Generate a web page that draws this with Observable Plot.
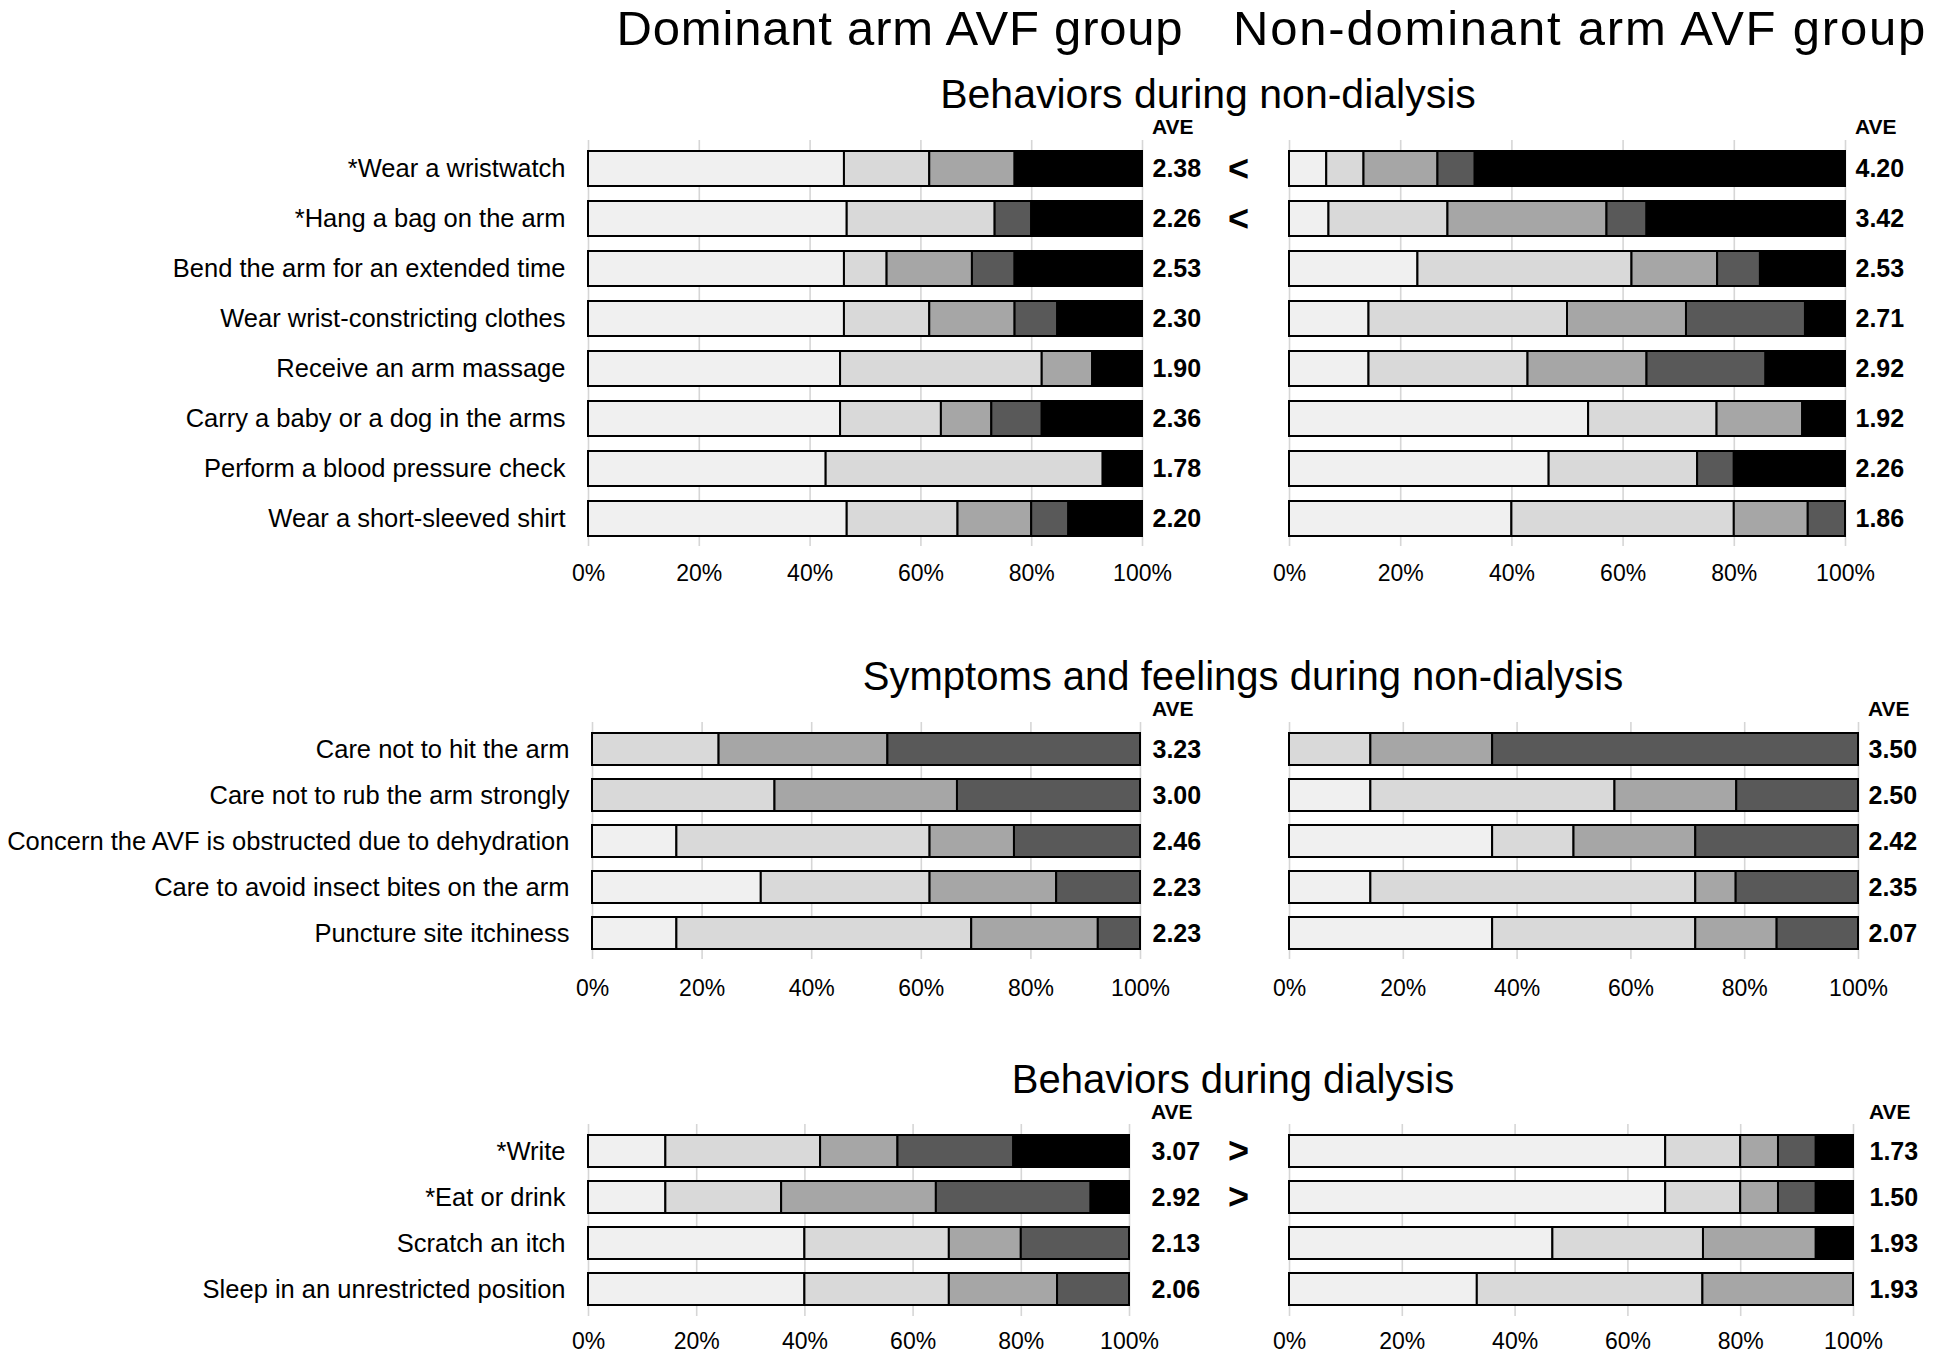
<!DOCTYPE html>
<html><head><meta charset="utf-8">
<script src="https://cdn.jsdelivr.net/npm/d3@7"></script>
<script src="https://cdn.jsdelivr.net/npm/@observablehq/plot@0.6"></script>
<style>
body{margin:0;background:#fff;}
#chart{position:relative;width:1943px;height:1354px;overflow:hidden;font-family:"Liberation Sans",Arial,sans-serif;color:#000;background:#fff;}
.t{position:absolute;white-space:nowrap;line-height:1;}
.panel{position:absolute;}
</style></head><body><div id="chart"></div><script>
// ---------- data ----------
const levelColors = ["#f0f0f0", "#d9d9d9", "#a6a6a6", "#595959", "#000000"];
const tickValues = [0, 20, 40, 60, 80, 100];

const behaviorItems = ["*Wear a wristwatch", "*Hang a bag on the arm", "Bend the arm for an extended time", "Wear wrist-constricting clothes", "Receive an arm massage", "Carry a baby or a dog in the arms", "Perform a blood pressure check", "Wear a short-sleeved shirt"];
const behaviorDominant = [
  [46.2, 15.4, 15.4, 0, 23.0],
  [46.7, 26.7, 0, 6.6, 20.0],
  [46.2, 7.7, 15.4, 7.7, 23.0],
  [46.2, 15.4, 15.4, 7.7, 15.3],
  [45.5, 36.4, 9.1, 0, 9.0],
  [45.5, 18.2, 9.1, 9.1, 18.1],
  [42.9, 50.0, 0, 0, 7.1],
  [46.7, 20.0, 13.3, 6.7, 13.3]
];
const behaviorNonDominant = [
  [6.7, 6.7, 13.3, 6.7, 66.6],
  [7.1, 21.4, 28.6, 7.2, 35.7],
  [23.1, 38.5, 15.4, 7.7, 15.3],
  [14.3, 35.7, 21.4, 21.4, 7.2],
  [14.3, 28.6, 21.4, 21.4, 14.3],
  [53.8, 23.1, 15.4, 0, 7.7],
  [46.7, 26.7, 0, 6.6, 20.0],
  [40.0, 40.0, 13.3, 6.7, 0]
];
const behaviorAveDominant = [2.38, 2.26, 2.53, 2.30, 1.90, 2.36, 1.78, 2.20];
const behaviorAveNonDominant = [4.20, 3.42, 2.53, 2.71, 2.92, 1.92, 2.26, 1.86];
const behaviorSigns = ["<", "<", "", "", "", "", "", ""];

const symptomItems = ["Care not to hit the arm", "Care not to rub the arm strongly", "Concern the AVF is obstructed due to dehydration", "Care to avoid insect bites on the arm", "Puncture site itchiness"];
const symptomDominant = [
  [0, 23.1, 30.8, 46.1],
  [0, 33.3, 33.3, 33.4],
  [15.4, 46.2, 15.4, 23.0],
  [30.8, 30.8, 23.1, 15.3],
  [15.4, 53.8, 23.1, 7.7]
];
const symptomNonDominant = [
  [0, 14.3, 21.4, 64.3],
  [14.3, 42.9, 21.4, 21.4],
  [35.7, 14.3, 21.4, 28.6],
  [14.3, 57.1, 7.1, 21.5],
  [35.7, 35.7, 14.3, 14.3]
];
const symptomAveDominant = [3.23, 3.00, 2.46, 2.23, 2.23];
const symptomAveNonDominant = [3.50, 2.50, 2.42, 2.35, 2.07];

const dialysisItems = ["*Write", "*Eat or drink", "Scratch an itch", "Sleep in an unrestricted position"];
const dialysisDominant = [
  [14.3, 28.6, 14.3, 21.4, 21.4],
  [14.3, 21.4, 28.6, 28.6, 7.1],
  [40.0, 26.7, 13.3, 20.0, 0],
  [40.0, 26.7, 20.0, 13.3, 0]
];
const dialysisNonDominant = [
  [66.7, 13.3, 6.7, 6.7, 6.6],
  [66.7, 13.3, 6.7, 6.7, 6.6],
  [46.7, 26.7, 20.0, 0, 6.6],
  [33.3, 40.0, 26.7, 0, 0]
];
const dialysisAveDominant = [3.07, 2.92, 2.13, 2.06];
const dialysisAveNonDominant = [1.73, 1.50, 1.93, 1.93];
const dialysisSigns = [">", ">", "", ""];

// ---------- drawing ----------
const chart = document.getElementById("chart");
const fmt = d3.format(".2f");

// place a text so that its baseline sits at y (line-height 1 => baseline ≈ top + 0.8465em)
function addText(txt, css, baseline) {
  const d = document.createElement("div");
  d.className = "t";
  d.textContent = txt;
  Object.assign(d.style, css);
  const fs = parseFloat(css.fontSize);
  d.style.top = (baseline - 0.8465 * fs) + "px";
  chart.appendChild(d);
}

function panel(o) {
  const segs = [];
  o.items.forEach((item, i) => o.values[i].forEach((v, k) => {
    if (v > 0) segs.push({item, level: k + 1, value: v});
  }));
  const rows = o.items.map((item, i) => ({item, ave: o.ave[i], sign: o.signs ? o.signs[i] : ""}));
  const mb = o.mb;
  const width = o.svgRight - o.svgLeft;
  const height = o.r1 - o.r0 + mb;
  const marks = [
    Plot.gridX(tickValues, {stroke: "#d6d6d6", strokeOpacity: 1, strokeWidth: 1.6}),
    Plot.axisX(tickValues, {tickSize: 0, tickPadding: o.tickPad, tickFormat: d => d + "%", fontSize: 23, label: null}),
    Plot.barX(segs, {x: "value", y: "item", fill: "level", stroke: "#000", strokeWidth: 2}),
    Plot.text(rows, {x: d => 100, y: "item", text: d => fmt(d.ave), dx: o.aveX - o.x100, textAnchor: "start", fontWeight: "bold", fontSize: 25})
  ];
  if (o.labels) marks.push(Plot.axisY({tickSize: 0, tickPadding: 23, fontSize: 25.5, label: null}));
  if (o.signs) marks.push(Plot.text(rows, {x: d => 100, y: "item", text: "sign", dx: o.signX - o.x100, textAnchor: "middle", fontSize: 36, fontWeight: "bold"}));
  const p = Plot.plot({
    width, height,
    marginLeft: o.x0 - o.svgLeft,
    marginRight: o.svgRight - o.x100,
    marginTop: 0,
    marginBottom: mb,
    style: {fontFamily: '"Liberation Sans", Arial, sans-serif', fontSize: "23px", color: "#000", background: "transparent", overflow: "visible"},
    x: {domain: [0, 100], axis: null},
    y: {domain: o.items, paddingInner: 0.31, paddingOuter: o.po, axis: null},
    color: {type: "ordinal", domain: [1, 2, 3, 4, 5], range: levelColors},
    marks
  });
  const wrap = document.createElement("div");
  wrap.className = "panel";
  wrap.style.left = o.svgLeft + "px";
  wrap.style.top = o.r0 + "px";
  wrap.appendChild(p);
  chart.appendChild(wrap);
}

// Titles
addText("Dominant arm AVF group", {left: "900px", fontSize: "49px", letterSpacing: "0.8px", transform: "translateX(-50%)"}, 45);
addText("Non-dominant arm AVF group", {left: "1233px", fontSize: "49px", letterSpacing: "1.8px"}, 45);
addText("Behaviors during non-dialysis", {left: "1208px", fontSize: "41px", transform: "translateX(-50%)"}, 109);
addText("Symptoms and feelings during non-dialysis", {left: "1243px", fontSize: "40px", transform: "translateX(-50%)"}, 690);
addText("Behaviors during dialysis", {left: "1233px", fontSize: "40px", transform: "translateX(-50%)"}, 1093);

// AVE headers
const aveCss = {fontSize: "21px", fontWeight: "bold"};
addText("AVE", {...aveCss, left: "1152px"}, 134);
addText("AVE", {...aveCss, left: "1855px"}, 134);
addText("AVE", {...aveCss, left: "1152px"}, 716);
addText("AVE", {...aveCss, left: "1868px"}, 716);
addText("AVE", {...aveCss, left: "1151px"}, 1119);
addText("AVE", {...aveCss, left: "1869px"}, 1119);

// Section 1
panel({items: behaviorItems, values: behaviorDominant, ave: behaviorAveDominant, signs: behaviorSigns, signX: 1238,
  labels: true, svgLeft: 0, svgRight: 1262, x0: 588, x100: 1142, aveX: 1152, r0: 140, r1: 546, po: 0.19, tickPad: 18, mb: 60});
panel({items: behaviorItems, values: behaviorNonDominant, ave: behaviorAveNonDominant,
  labels: false, svgLeft: 1262, svgRight: 1943, x0: 1289, x100: 1845, aveX: 1855, r0: 140, r1: 546, po: 0.19, tickPad: 18, mb: 60});
// Section 2
panel({items: symptomItems, values: symptomDominant, ave: symptomAveDominant,
  labels: true, svgLeft: 0, svgRight: 1262, x0: 592, x100: 1140, aveX: 1152, r0: 722, r1: 959, po: 0.217, tickPad: 20, mb: 60});
panel({items: symptomItems, values: symptomNonDominant, ave: symptomAveNonDominant,
  labels: false, svgLeft: 1262, svgRight: 1943, x0: 1289, x100: 1858, aveX: 1868, r0: 722, r1: 959, po: 0.217, tickPad: 20, mb: 60});
// Section 3
panel({items: dialysisItems, values: dialysisDominant, ave: dialysisAveDominant, signs: dialysisSigns, signX: 1238,
  labels: true, svgLeft: 0, svgRight: 1262, x0: 588, x100: 1129, aveX: 1151, r0: 1124, r1: 1316, po: 0.21, tickPad: 16, mb: 38});
panel({items: dialysisItems, values: dialysisNonDominant, ave: dialysisAveNonDominant,
  labels: false, svgLeft: 1262, svgRight: 1943, x0: 1289, x100: 1853, aveX: 1869, r0: 1124, r1: 1316, po: 0.21, tickPad: 16, mb: 38});
</script></body></html>
